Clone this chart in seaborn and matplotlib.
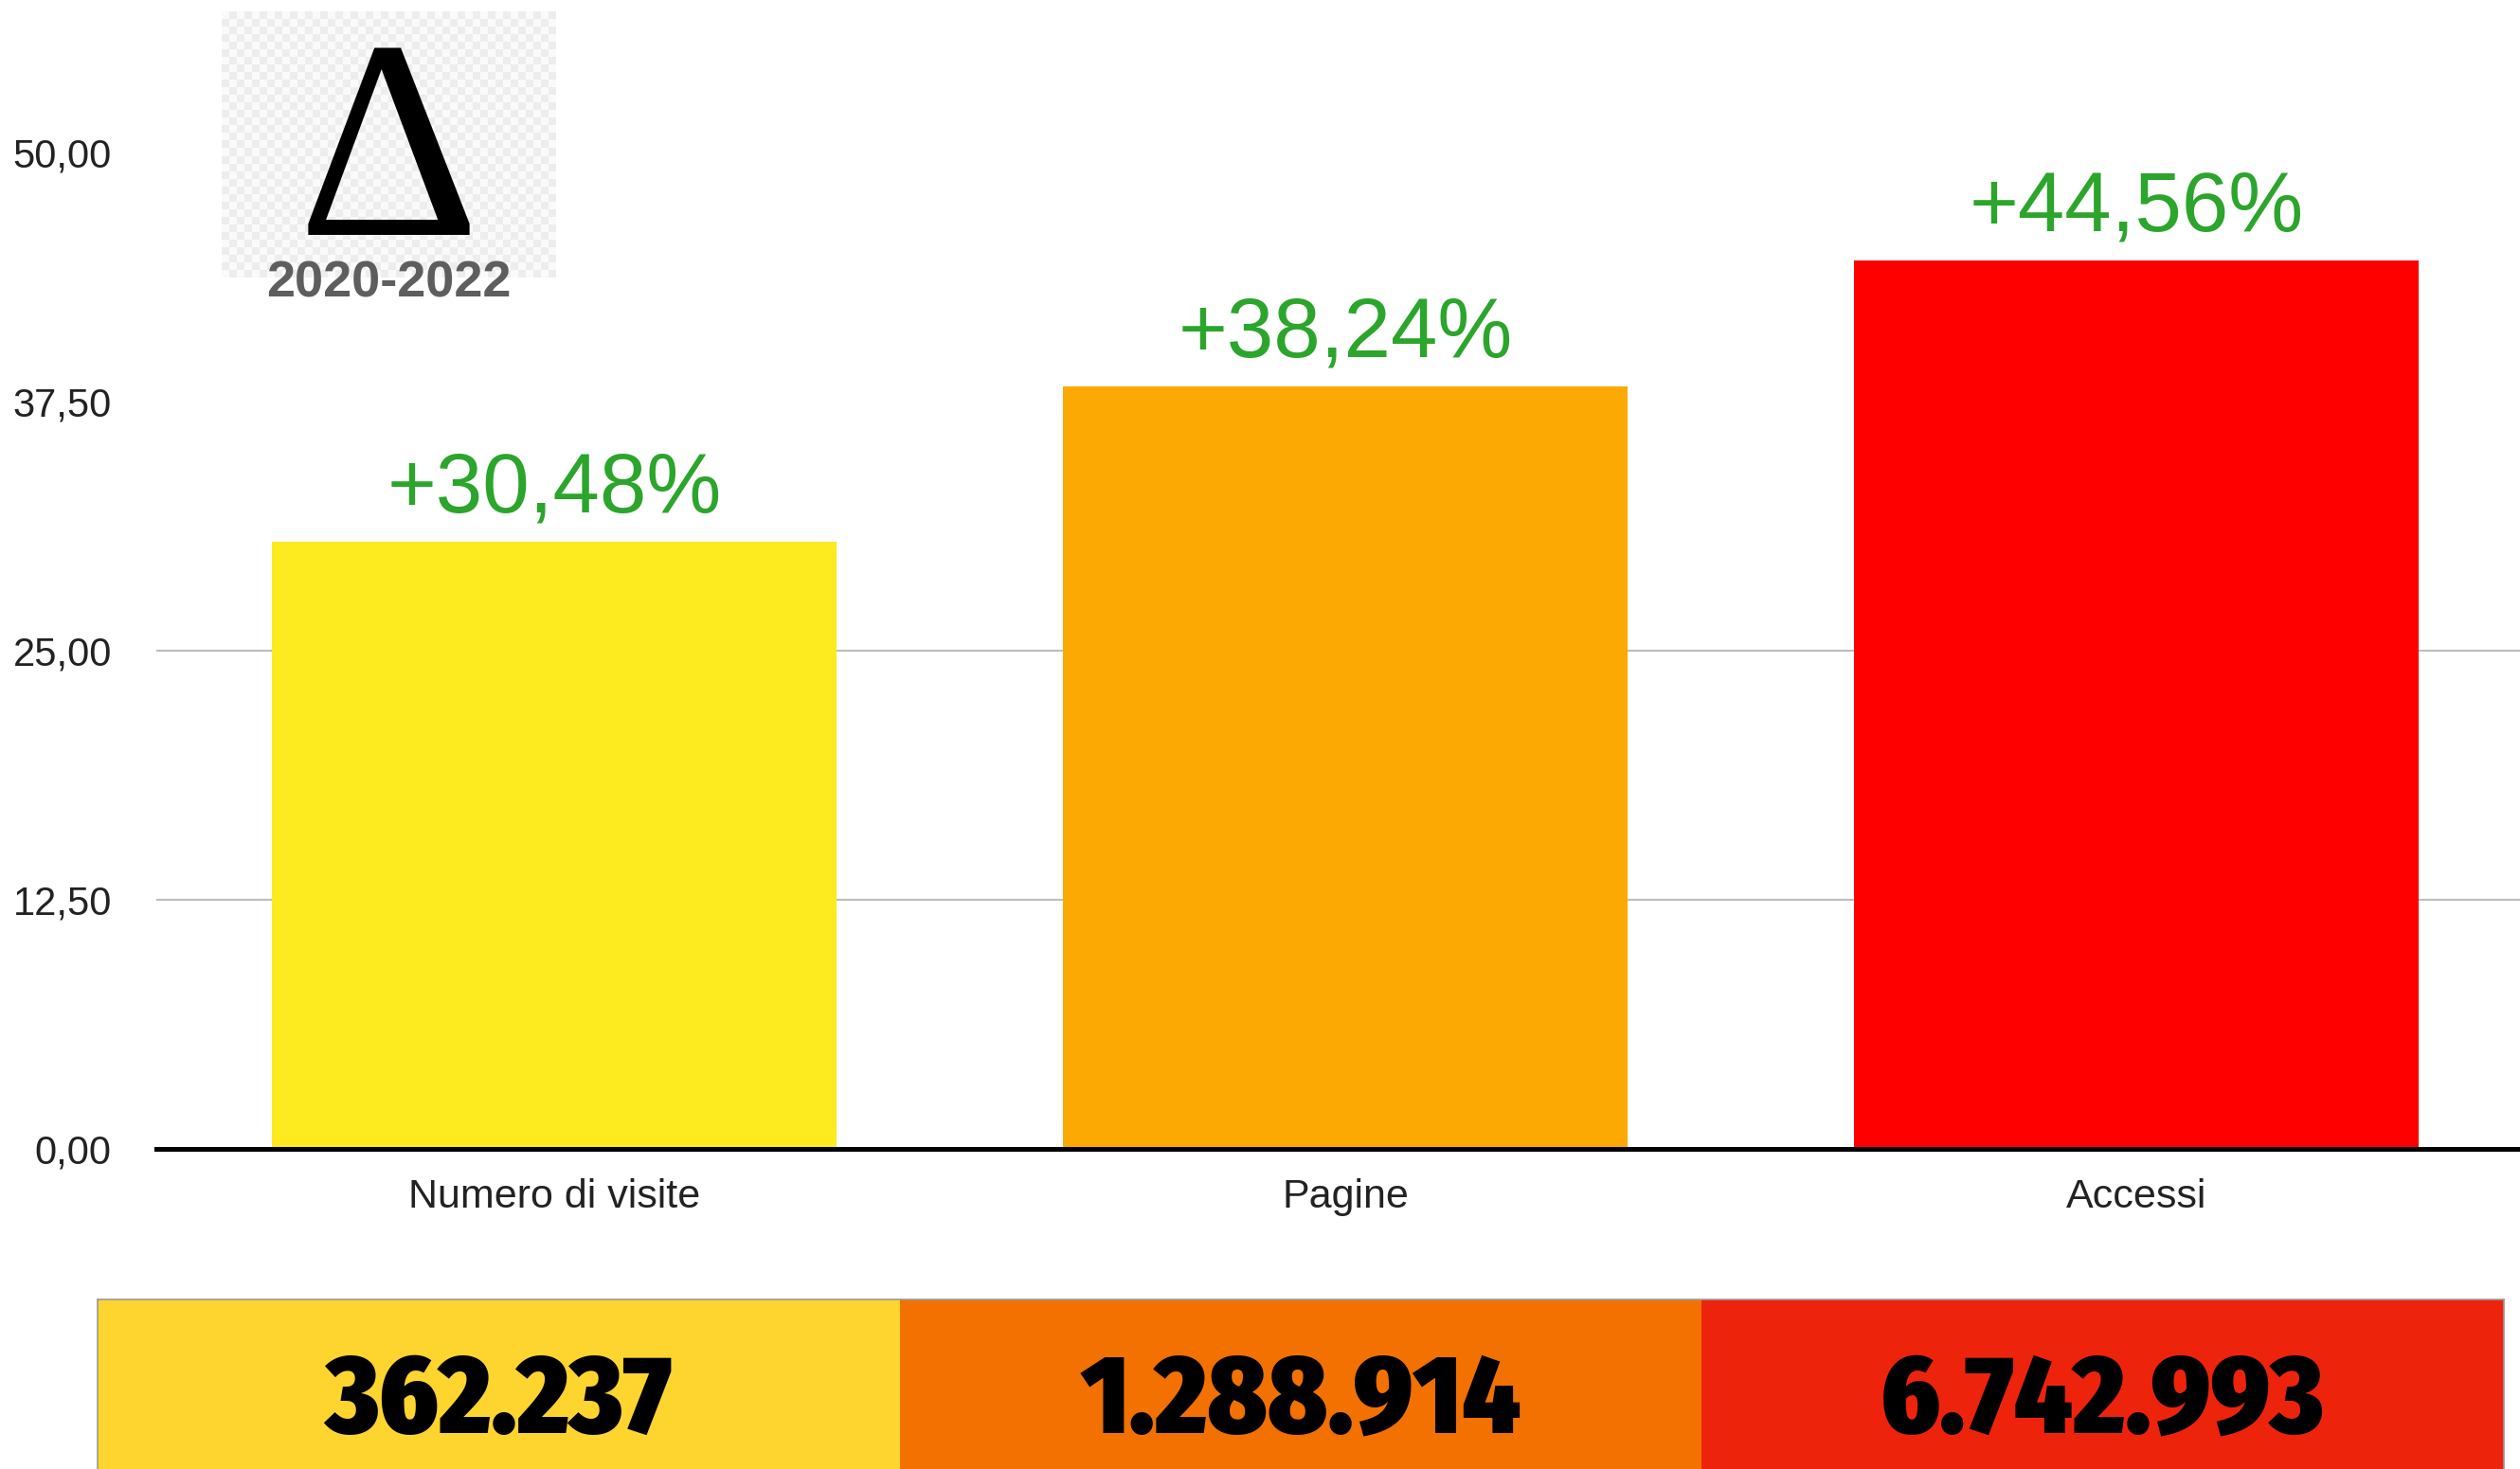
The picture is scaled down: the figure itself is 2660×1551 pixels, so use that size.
import os
import numpy as np
import matplotlib
matplotlib.use('Agg')
import matplotlib.pyplot as plt
from matplotlib.colors import ListedColormap
from matplotlib import font_manager
import seaborn as sns
import pandas as pd

# ---- data ----
categories = ["Numero di visite", "Pagine", "Accessi"]
growth_pct = [30.48, 38.24, 44.56]
growth_labels = ["+30,48%", "+38,24%", "+44,56%"]
bar_colors = ["#FDEA1F", "#FCA904", "#FE0000"]
totals = ["362.237", "1.288.914", "6.742.993"]
total_colors = ["#FED42E", "#F27100", "#EE230C"]
y_ticks = [0, 12.5, 25, 37.5, 50]
y_tick_labels = ["0,00", "12,50", "25,00", "37,50", "50,00"]
grid_values = [12.5, 25]
period = "2020-2022"
delta_symbol = "Δ"

sns.set_style("white")
plt.rcParams['font.family'] = ['Liberation Sans', 'DejaVu Sans']

_files = {os.path.basename(f.fname): f.fname for f in font_manager.fontManager.ttflist}


def font_file(*names):
    for n in names:
        if n in _files:
            return _files[n]
    return None


cond_font = font_file("FiraSansCondensed-Black.ttf", "BarlowCondensed-Black.ttf",
                      "RobotoCondensed-Bold.ttf")
if cond_font:
    totals_font = dict(fontproperties=font_manager.FontProperties(fname=cond_font, size=84))
else:
    totals_font = dict(fontsize=76, fontweight="black", family=["Roboto", "DejaVu Sans"])

serif_font = font_file("LiberationSerif-Regular.ttf")
if serif_font:
    delta_font = dict(fontproperties=font_manager.FontProperties(fname=serif_font, size=216))
else:
    delta_font = dict(family=["Liberation Serif", "DejaVu Serif"], fontsize=216)

W, H = 2660, 1551
fig = plt.figure(figsize=(W / 100, H / 100), dpi=100)


def fx(px):
    return px / W


def fy(px):
    return 1 - px / H


# ---- main bar chart ----
top_px, bot_px = 140, 1213
left_px, right_px = 165, 2660
ax = fig.add_axes([fx(left_px), fy(bot_px), fx(right_px - left_px), (bot_px - top_px) / H])
df = pd.DataFrame({"cat": categories, "val": growth_pct})
sns.barplot(data=df, x="cat", y="val", hue="cat", palette=bar_colors, saturation=1,
            width=0.713, legend=False, ax=ax, zorder=2, linewidth=0)

for v in grid_values:
    ax.axhline(v, color="#BDBDBD", lw=1.5, zorder=1)

ax.set_ylim(0, (bot_px - top_px) / (263 / 12.5))
ax.set_xlim(-0.503, 2.485)
ax.set_yticks(y_ticks)
ax.set_yticklabels(y_tick_labels)
ax.set_xlabel("")
ax.set_ylabel("")
for s in ["top", "right", "left"]:
    ax.spines[s].set_visible(False)
ax.spines["bottom"].set_color("black")
ax.spines["bottom"].set_linewidth(3.6)
ax.spines["bottom"].set_zorder(3)
ax.tick_params(axis="y", length=0, pad=34, labelsize=30, labelcolor="#222222")
ax.tick_params(axis="x", length=0, pad=22, labelsize=31, labelcolor="#222222")
ax.patch.set_alpha(0)

for i, c in enumerate(ax.containers):
    ax.bar_label(c, labels=[growth_labels[i]], padding=9, fontsize=64, color="#2BA52B")

# ---- bottom totals strip ----
ax2 = fig.add_axes([fx(103), fy(1590), fx(2643 - 103), (1590 - 1372) / H])
sns.heatmap(np.array([[0, 1, 2]]), cmap=ListedColormap(total_colors), vmin=0, vmax=2,
            annot=np.array([totals]), fmt="", cbar=False, ax=ax2,
            xticklabels=False, yticklabels=False,
            annot_kws=dict(color="black", **totals_font))
for s in ax2.spines.values():
    s.set_visible(True)
    s.set_color("#9A9A9A")
    s.set_linewidth(1.2)

# ---- delta badge ----
ax3 = fig.add_axes([fx(234), fy(293), fx(587 - 234), (293 - 12) / H])
nr, nc = 35, 44
pattern = np.add.outer(np.arange(nr), np.arange(nc)) % 2
ax3.imshow(pattern, cmap=ListedColormap(["#FAFAFA", "#EDEDED"]), aspect="auto",
           interpolation="nearest")
ax3.axis("off")

fig.text(fx(410), fy(248), delta_symbol, ha="center", va="baseline", color="black",
         **delta_font)
fig.text(fx(410), fy(299), period, ha="center", va="center", fontsize=39,
         fontweight="bold", color="#5E5E5E")

fig.savefig("out.png", dpi=100)
